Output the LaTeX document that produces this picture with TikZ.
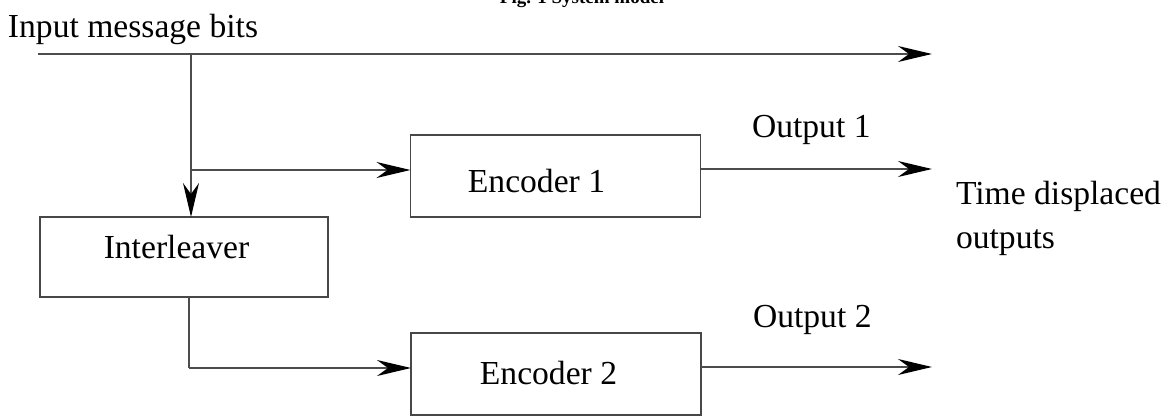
\documentclass[tikz,border=0pt]{standalone}
\usepackage{fontspec}
\setmainfont{Liberation Serif}
\usetikzlibrary{arrows.meta}
\begin{document}
\begin{tikzpicture}[x=0.5pt,y=-0.5pt,
  every node/.style={inner sep=0pt,outer sep=0pt},
  lbl/.style={font=\fontsize{16.8}{20}\selectfont},
  blk/.style={draw=black!72,line width=0.8pt,fill=white},
  wire/.style={draw=black!70,line width=0.9pt},
  arr/.style={wire,-{Stealth[length=17pt,width=8pt,inset=5.5pt,color=black,fill=black]}},
  figcaption/.style={font=\fontsize{9.5}{11}\selectfont\bfseries}]
\useasboundingbox (0,0) rectangle (1170,416);
\clip (0,0) rectangle (1170,416);
\fill[white] (0,0) rectangle (1170,416);
% caption (cut off at top, as in the reference)
\node[figcaption,anchor=base] (caption) at (582,4) {Fig. 1 System model};
% boxes
\node[blk,minimum width=145pt,minimum height=41pt] (enc1) at (555.5,176) {};
\node[blk,minimum width=145pt,minimum height=41pt] (enc2) at (556,374) {};
\node[blk,minimum width=144pt,minimum height=40pt] (il) at (184,257) {};
% box texts
\node[lbl,anchor=base] (enc1t) at (536.5,193) {Encoder 1};
\node[lbl,anchor=base] (enc2t) at (548.5,384) {Encoder 2};
\node[lbl,anchor=base] (ilt) at (176.5,259) {Interleaver};
% labels
\node[lbl,anchor=base west] (inlbl) at (8,38) {Input message bits};
\node[lbl,anchor=base west] (out1) at (752,138) {Output 1};
\node[lbl,anchor=base west] (out2) at (753,327) {Output 2};
\node[lbl,anchor=base west] (tdo1) at (956,205) {Time displaced};
\node[lbl,anchor=base west] (tdo2) at (956,249) {outputs};
% coordinates
\coordinate (in0) at (38,54);
\coordinate (topend) at (932,54);
\coordinate (split) at (191,54);
\coordinate (br) at (191,170);
\coordinate (o1) at (932,169);
\coordinate (dn) at (189,368);
\coordinate (o2) at (932,367);
% connectors
\draw[arr] (in0) -- (topend);
\draw[arr] (split) -- (split |- il.north);
\draw[arr] (br) -- (br -| enc1.west);
\draw[arr] (o1 -| enc1.east) -- (o1);
\draw[wire] (dn |- il.south) -- (dn);
\draw[arr] (dn) -- (dn -| enc2.west);
\draw[arr] (o2 -| enc2.east) -- (o2);
\end{tikzpicture}
\end{document}
